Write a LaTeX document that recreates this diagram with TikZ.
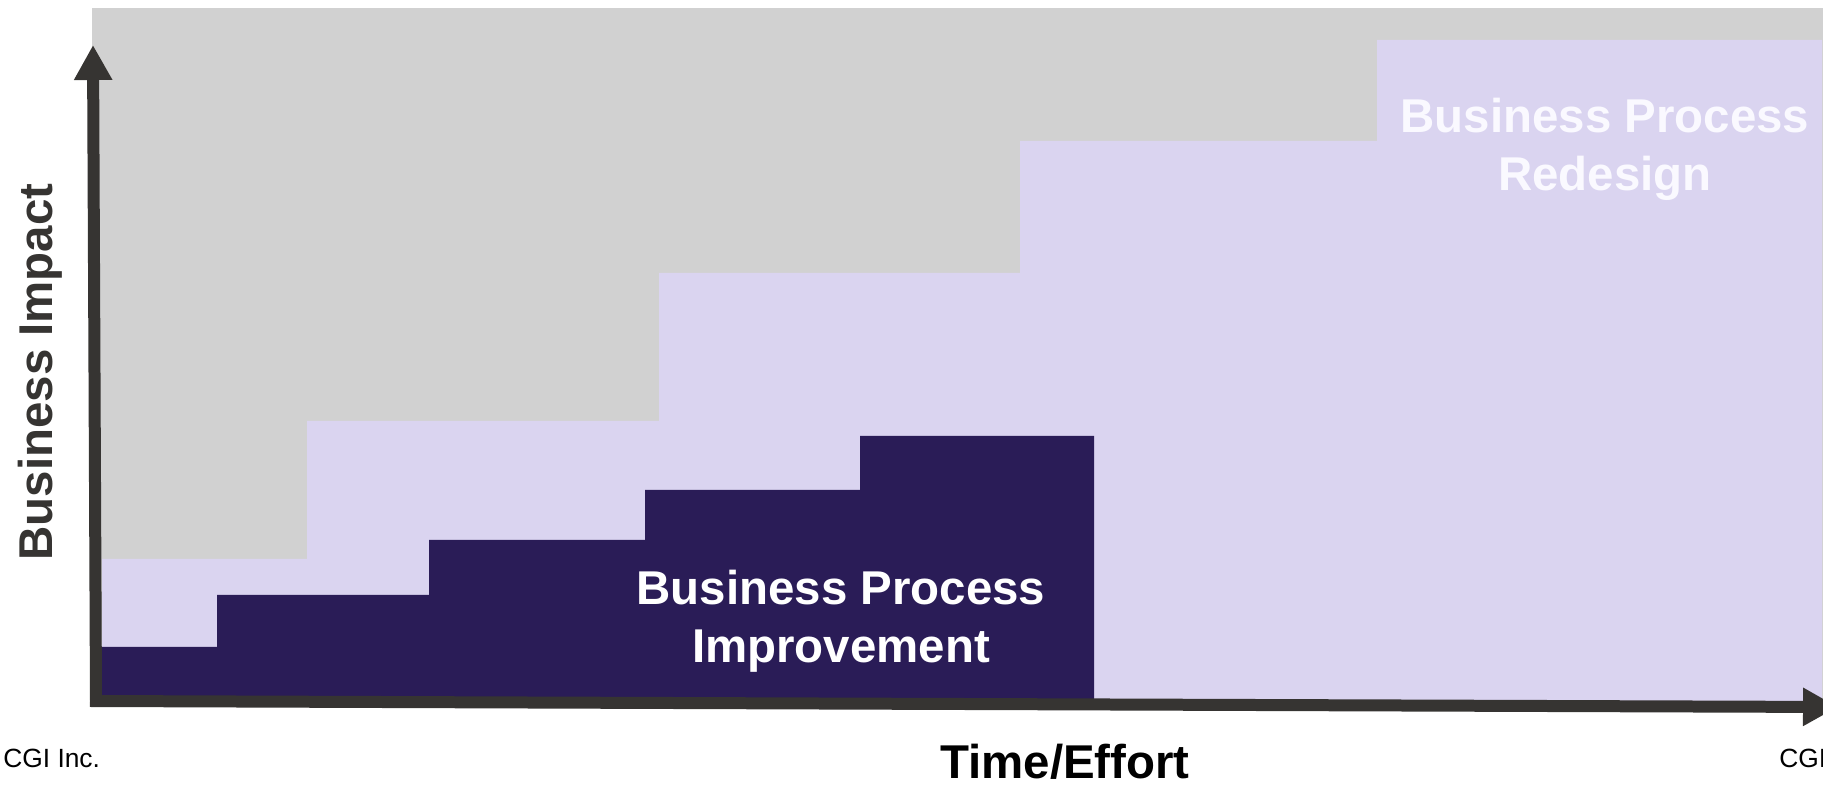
\documentclass[tikz,border=0pt]{standalone}
\usepackage{fontspec}
\setmainfont{Liberation Sans}
\usetikzlibrary{arrows.meta}

\definecolor{bggray}{RGB}{209,209,209}
\definecolor{lilac}{RGB}{218,212,240}
\definecolor{deeppurple}{RGB}{42,28,87}
\definecolor{axisgray}{RGB}{54,52,50}
\definecolor{paleink}{RGB}{250,249,255}

\begin{document}
\begin{tikzpicture}[x=0.02cm, y=-0.02cm,
	axis/.style={draw=axisgray, line width=0.24cm, -{Triangle[length=0.7cm, width=0.72cm]}},
	bigtext/.style={font=\fontsize{27}{33}\selectfont\bfseries, inner sep=0pt, align=center},
	smalltext/.style={font=\fontsize{15}{18}\selectfont, inner sep=0pt}]
	\useasboundingbox (0,0) rectangle (1823,786);
	\clip (0,0) rectangle (1823,786);

	% sfondo
	\fill[bggray] (92,8) rectangle (1823,700);

	% gradini redesign
	\fill[lilac] (102,700) -- (102,559) -- (307,559) -- (307,421) -- (659,421)
	  -- (659,273) -- (1020,273) -- (1020,141) -- (1377,141) -- (1377,40)
	  -- (1822,40) -- (1822,705) -- cycle;

	% gradini improvement
	\fill[deeppurple] (102,700) -- (102,647) -- (217,647) -- (217,595) -- (429,595)
	  -- (429,540) -- (645,540) -- (645,490) -- (860,490) -- (860,436)
	  -- (1094,436) -- (1094,700) -- cycle;

	% assi
	\coordinate (origin) at (96,701);
	\coordinate (ytop) at (93,45);
	\coordinate (xstart) at (90,701);
	\coordinate (xend) at (1838,707);
	\draw[axis] (origin) -- (ytop);
	\draw[axis] (xstart) -- (xend);

	% etichette
	\node[bigtext, text=axisgray, rotate=90, anchor=base] (impact) at (52,372) {Business Impact};
	\node[bigtext, anchor=base] (effort) at (1065,779) {Time/Effort};
	\node[bigtext, text=white] (bpi) at (841,621) {Business Process\\Improvement};
	\node[bigtext, text=paleink] (bpr) at (1605,149) {Business Process\\Redesign};

	\node[smalltext, anchor=base west] (cgileft) at (3,768) {CGI Inc.};
	\node[smalltext, anchor=base west] (cgiright) at (1779,768) {CGI};
\end{tikzpicture}
\end{document}
